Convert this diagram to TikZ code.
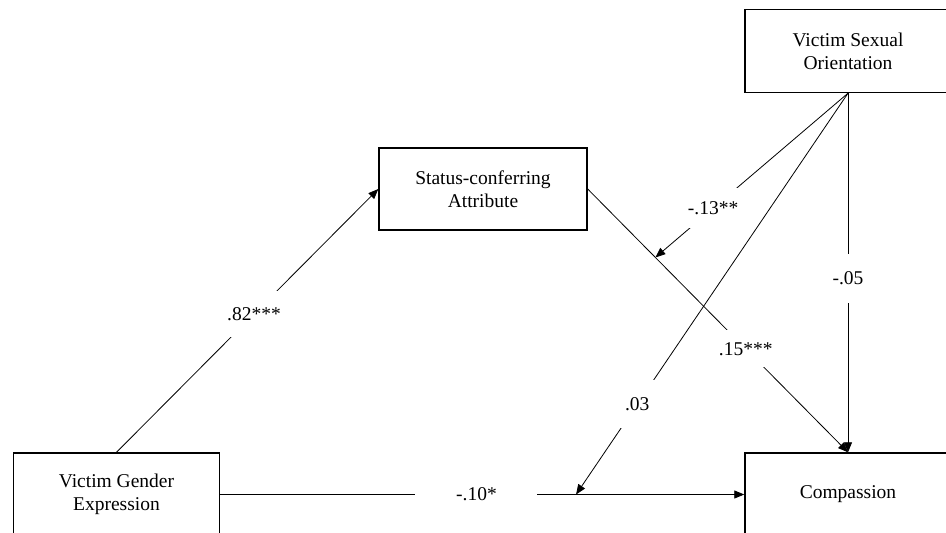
\documentclass[tikz,border=0pt]{standalone}
\usepackage{fontspec}
\setmainfont{Liberation Serif}
\usetikzlibrary{arrows.meta}
\begin{document}
\begin{tikzpicture}[x=1bp,y=-1bp,
  txt/.style={font=\fontsize{19.5bp}{23bp}\selectfont},
  var/.style={txt,draw,line width=1.4bp,minimum width=206bp,minimum height=83bp,align=center,inner sep=0pt},
  effect/.style={line width=0.8bp,-{Triangle[length=10bp,width=8bp]}},
  coef/.style={txt,fill=white,inner sep=0pt},
]
\useasboundingbox (0,0) rectangle (946,533);
\clip (0,0) rectangle (946,533);

% variables
\node[var] (vge)  at (116.5,494.5) {Victim Gender\\Expression};
\node[var] (comp) at (848,494.5)   {Compassion};
\node[var,minimum width=208bp,minimum height=82bp] (sca) at (483,189) {Status-conferring\\Attribute};
\node[var] (vso)  at (848,51)      {Victim Sexual\\Orientation};

% points where the moderation paths meet the direct paths
\path (sca.east) -- (comp.north) coordinate[pos=0.26] (m1);
\path (vge.east) -- (comp.west) coordinate[pos=0.679] (m2);

% direct paths
\draw[effect] (vge.north) -- (sca.west)
  node[coef,pos=0.525,minimum width=60bp,minimum height=46bp] {.82***};
\draw[effect] (sca.east) -- (comp.north)
  node[coef,pos=0.607,minimum width=60bp,minimum height=37bp] {.15***};
\draw[effect] (vge.east) -- (comp.west)
  node[coef,pos=0.489,minimum width=122bp,minimum height=30bp] {-.10*};
\draw[effect] (vso.south) -- (comp.north)
  node[coef,pos=0.515,minimum width=40bp,minimum height=49bp] {-.05};

% moderation paths
\draw[effect] (vso.south) -- (m1)
  node[coef,pos=0.70,minimum width=52bp,minimum height=40bp] {-.13**};
\draw[effect] (vso.south) -- (m2)
  node[coef,pos=0.775,minimum width=40bp,minimum height=48bp] {.03};
\end{tikzpicture}
\end{document}
